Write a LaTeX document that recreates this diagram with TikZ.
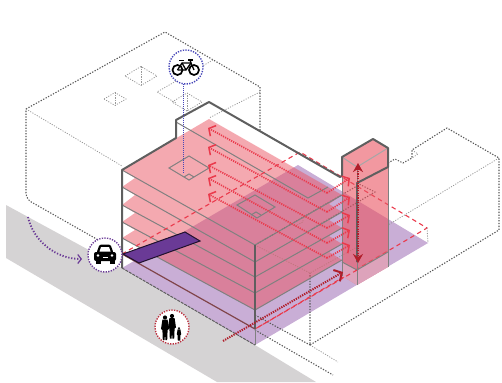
\documentclass[tikz,border=0pt]{standalone}
\usetikzlibrary{arrows.meta}
\definecolor{groundgray}{HTML}{D5D3D4}
\definecolor{floorlav}{HTML}{C9AED6}
\definecolor{slabpink}{HTML}{E95361}
\definecolor{rampviolet}{HTML}{6A3A96}
\definecolor{flowred}{HTML}{EA3A4C}
\definecolor{deepred}{HTML}{B01E2A}
\definecolor{wallgray}{HTML}{5F5F5F}
\begin{document}
\begin{tikzpicture}[
  x=1pt, y=-1pt,
  wall/.style={wallgray, line width=2pt, line join=round},
  edgeline/.style={black!50, line width=1pt},
  massing/.style={black!65, line width=1.1pt, dash pattern=on 1.3pt off 1.5pt},
  massthin/.style={black!40, line width=0.8pt, dash pattern=on 1.1pt off 1.4pt},
  flow/.style={flowred, line width=1.7pt, dash pattern=on 1.2pt off 1.1pt, -{Straight Barb[length=5pt,width=12pt,line width=1.5pt]}},
  bound/.style={flowred, line width=1.1pt, dash pattern=on 4.5pt off 3.5pt},
  icon/.style={circle, fill=white, line width=1.4pt, dash pattern=on 1.3pt off 1.3pt, minimum size=34pt, inner sep=0pt},
  person/.pic={
    \fill[black] (0,-10.5) circle (2.1);
    \fill[black] (-2.6,-8.4) -- (2.6,-8.4) -- (4,1) -- (2.6,2) -- (2.2,12) -- (0.4,12) -- (0,4) -- (-0.4,12) -- (-2.2,12) -- (-2.6,2) -- (-4,1) -- cycle;
  },
]
  \useasboundingbox (0,0) rectangle (502,382);

  % Corners of the site
  \coordinate (floorL) at (122,268);
  \coordinate (floorB) at (298,165);
  \coordinate (floorR) at (428,243);
  \coordinate (floorF) at (255,345);
  \coordinate (rectL) at (122,254);
  \coordinate (rectB) at (300,152);
  \coordinate (rectR) at (427,228);
  \coordinate (rectF) at (255,329);

  % Street and floor
  \fill[groundgray] (6,205) -- (floorL) -- (floorF) -- (316,382) -- (217,382) -- (6,258) -- cycle;
  \fill[floorlav] (floorL) -- (floorB) -- (floorR) -- (floorF) -- cycle;

  % Massing left behind the building
  \draw[massing, rounded corners=6pt] (100,241) -- (26,199) -- (26,109);
  \draw[massing] (26,109) -- (165,32) -- (260,87) -- (260,130);
  \draw[massthin] (26,109) -- (122,166);
  \draw[massthin] (213,60) -- (157,92) -- (176,103);
  \draw[massthin] (260,92) -- (209,118);
  \foreach \cx/\cy/\hw/\hh in {141/76/16/9.5, 115/99/11/6.5, 187/102/15/9} {
    \draw[massthin] (\cx-\hw,\cy) -- (\cx,\cy-\hh) -- (\cx+\hw,\cy) -- (\cx,\cy+\hh) -- cycle;
    \draw[massthin] (\cx,\cy-\hh) -- (\cx,\cy+\hh);
  }

  % Massing on the right
  \draw[massing] (388,163) -- (395,159) -- (403,163) -- (412,158) -- (412,150) -- (447,128) -- (499,158) -- (499,230) -- (310,345) -- (310,273);
  \draw[massthin] (412,150) -- (418,154) -- (412,158);
  \draw[massthin] (499,158) -- (388,225);
  \draw[massing] (255,330) -- (333,375);
  \draw[massthin] (310,345) -- (338,362);
  \draw[massing] (255,315) -- (310,345);
  \draw[massthin] (255,245) -- (310,273) -- (357,247);
  \draw[massing] (255,245) -- (357,186);
  \draw[massing] (357,183) -- (375,192) -- (312,229);
  \draw[massthin] (303,215) -- (303,222) -- (295,226);

  % Floor plates, one fill so that they do not add up
  \fill[slabpink, opacity=0.5] (122,170) -- (209,119) -- (342,195) -- (329,204) -- (342,212) -- (329,220) -- (342,228) -- (329,236) -- (342,244) -- (329,252) -- (342,260) -- (255,310) -- (122,238) -- (135,230) -- (122,222) -- (135,213) -- (122,205) -- (135,195) -- (122,187) -- (135,178) -- cycle;
  \foreach \yl/\yf/\yr in {170/245/195, 187/262/212, 205/277/228, 222/293/244, 238/310/260} {
    \draw[edgeline] (122,\yl) -- (255,\yf) -- (342,\yr);
  }
  \draw[edgeline] (176,122) -- (308,198) -- (328,187);
  \draw[edgeline] (169,168) -- (189,156) -- (209,168) -- (189,180) -- cycle;
  \draw[edgeline] (184,177) -- (189,174) -- (194,177);
  \draw[edgeline] (237,205) -- (255,195) -- (275,207) -- (257,218) -- cycle;
  \draw[edgeline] (251,215) -- (256,212) -- (261,215);

  % Boundary of the plot
  \draw[bound] (rectL) -- (rectB) -- (rectR) -- (rectF);
  \draw[massthin] (rectR) -- (floorR);

  % Tower
  \fill[slabpink, opacity=0.6] (342,157) -- (373,139) -- (388,148) -- (388,267) -- (357,285) -- (342,276) -- cycle;
  \fill[white!30!floorlav] (342,262) -- (357,270) -- (388,252) -- (388,267) -- (357,285) -- (342,276) -- cycle;
  \fill[slabpink, opacity=0.3] (342,262) -- (357,270) -- (388,252) -- (388,267) -- (357,285) -- (342,276) -- cycle;
  \draw[black!35, line width=1pt] (342,157) -- (357,167) -- (388,148);
  \draw[edgeline] (357,167) -- (357,285);
  \draw[edgeline] (342,175) -- (342,276);
  \draw[edgeline] (388,167) -- (388,267);
  \draw[edgeline] (342,262) -- (357,270) -- (388,252);
  \draw[bound] (357,270) -- (rectF);

  % Thick outline of the building
  \draw[wall] (122,268) -- (122,170) -- (176,138) -- (176,120) -- (209,102) -- (340,177) -- (342,176) -- (342,157) -- (373,139) -- (388,148) -- (388,167) -- (357,183) -- (357,262);
  \draw[wall] (255,245) -- (255,329);
  \draw[edgeline] (255,329) -- (255,345);

  % Floor edge, front line and ramp
  \draw[wallgray, line width=1pt, dash pattern=on 3pt off 1pt] (floorL) -- (floorF);
  \draw[wallgray!60!deepred, line width=1.2pt] (rectL) -- (rectF);
  \draw[black!70!rampviolet, line width=1pt, fill=rampviolet] (123,254) -- (185,232) -- (200,241) -- (139,263) -- cycle;

  % Routes through the floors
  \foreach \yh/\yc/\ye in {128/193/178, 147/212/197, 165/228/215, 178/243/230, 194/258/245} {
    \draw[flow] (327,\yc) -- (208,\yh);
    \draw[flow] (327,\yc) -- (350,\ye);
  }
  \draw[deepred, line width=2pt, dash pattern=on 1.3pt off 1.1pt, -{Straight Barb[length=6pt,width=13pt,line width=2pt]}] (223,341) -- (343,272);
  \draw[deepred, line width=2pt, dash pattern=on 1.3pt off 1.1pt, {Stealth[length=9pt,width=10pt]}-{Stealth[length=9pt,width=10pt]}] (358,163) -- (358,263);

  % Icons
  \node[icon, draw=rampviolet] (car) at (105,255) {};
  \node[icon, draw=blue!45!gray] (bike) at (186,67) {};
  \node[icon, draw=flowred!80!black] (family) at (172,327) {};
  \coordinate (bikeEnd) at (183,173);
  \draw[blue!45!gray, line width=0.9pt, dash pattern=on 1pt off 1pt] (183,84) -- (bikeEnd);
  \draw[rampviolet, line width=1.8pt, dash pattern=on 1.3pt off 1.7pt, -{Straight Barb[length=3.5pt,width=9pt,line width=1.2pt]}] (28,217) .. controls (33,240) and (55,259) .. (82,259);

  % Car
  \fill[black, rounded corners=2pt] (94,252) rectangle (116,261);
  \fill[black, rounded corners=1.5pt] (96.5,253) -- (99.5,244.5) -- (110.5,244.5) -- (113.5,253) -- cycle;
  \fill[black] (95.5,260) rectangle (100.5,264);
  \fill[black] (109.5,260) rectangle (114.5,264);
  \fill[white] (99.5,251.5) -- (101,247) -- (109,247) -- (110.5,251.5) -- cycle;
  \fill[white] (98,255.5) circle (1.4);
  \fill[white] (112,255.5) circle (1.4);
  \fill[white] (102.5,257) rectangle (107.5,258);

  % Bicycle
  \draw[black, line width=1.7pt] (177.5,70) circle (5);
  \draw[black, line width=1.7pt] (194,70) circle (5);
  \draw[black, line width=1.3pt, line join=round] (177.5,70) -- (182,63) -- (191,63) -- (194,70);
  \draw[black, line width=1.3pt, line join=round] (177.5,70) -- (186,70) -- (191,63) -- (190,60);
  \draw[black, line width=1.3pt] (182,63) -- (186,70);
  \draw[black, line width=1.8pt] (179,60.5) -- (184,60.5);
  \draw[black, line width=1.6pt] (188,60) -- (193,60);

  % Family
  \path (165,328) pic {person};
  \path (172,326.5) pic {person};
  \path (179,334) pic[scale=0.55] {person};
\end{tikzpicture}
\end{document}
